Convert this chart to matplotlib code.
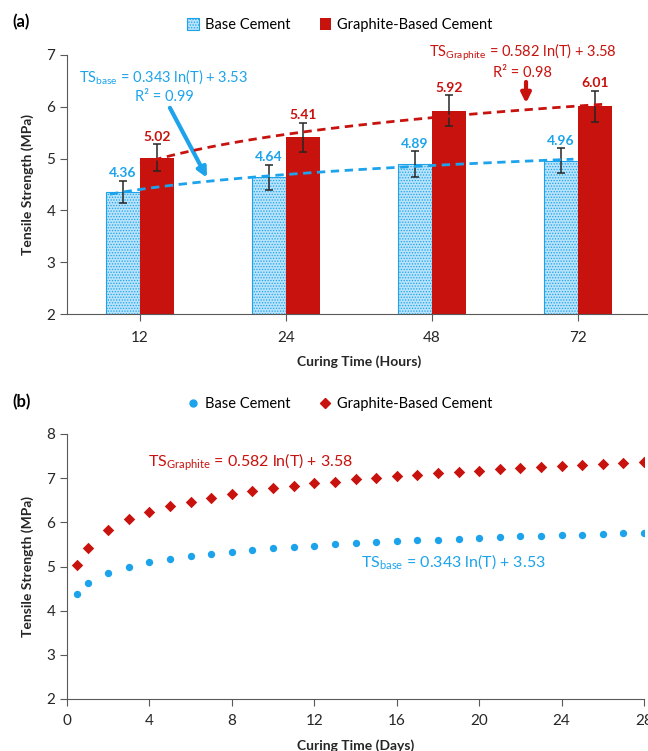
import numpy as np
import matplotlib
matplotlib.use('Agg')
import matplotlib.pyplot as plt
from matplotlib.patches import Patch
from matplotlib.lines import Line2D

plt.rcParams['font.family'] = ['Lato', 'DejaVu Sans']
plt.rcParams['mathtext.fontset'] = 'custom'
plt.rcParams['mathtext.rm'] = 'Lato'
plt.rcParams['mathtext.bf'] = 'Lato:bold'
plt.rcParams['hatch.linewidth'] = 0.6

# ===== data (a) =====
hours = [12, 24, 48, 72]
hour_labels = ['12', '24', '48', '72']
base_ts = [4.36, 4.64, 4.89, 4.96]
base_err = [0.21, 0.24, 0.25, 0.24]
graph_ts = [5.02, 5.41, 5.92, 6.01]
graph_err = [0.26, 0.28, 0.30, 0.30]

# ===== data (b) =====
days = [0.5, 1, 2, 3, 4, 5, 6, 7, 8, 9, 10, 11, 12, 13, 14, 15, 16, 17, 18, 19,
        20, 21, 22, 23, 24, 25, 26, 27, 28]
base_days_ts = [4.38, 4.62, 4.86, 5.00, 5.10, 5.17, 5.24, 5.29, 5.33, 5.37,
                5.41, 5.44, 5.47, 5.50, 5.53, 5.55, 5.57, 5.59, 5.61, 5.63,
                5.65, 5.66, 5.68, 5.70, 5.71, 5.72, 5.74, 5.75, 5.76]
graph_days_ts = [5.03, 5.43, 5.83, 6.07, 6.24, 6.37, 6.47, 6.56, 6.64, 6.71,
                 6.77, 6.83, 6.88, 6.92, 6.97, 7.01, 7.04, 7.08, 7.11, 7.14,
                 7.17, 7.20, 7.23, 7.25, 7.28, 7.30, 7.33, 7.35, 7.37]

blue = '#1ca3ec'
red = '#c8120e'
dark = '#262626'
spine_c = '#595959'

fig = plt.figure(figsize=(6.48, 7.51), dpi=100)

# ===== panel (a) =====
ax = fig.add_axes([67 / 648, 1 - 314 / 751, 584 / 648, 259 / 751])
x = np.arange(len(hours))
w = 0.233
pos_b = x - w / 2
pos_g = x + w / 2

ax.bar(pos_b, base_ts, w, facecolor='#b9e3fb', edgecolor=blue, hatch='......',
       linewidth=0.8, zorder=2)
ax.bar(pos_g, graph_ts, w, color=red, zorder=2)
ax.errorbar(pos_b, base_ts, yerr=base_err, fmt='none', ecolor=dark, elinewidth=1.1,
            capsize=3, capthick=1.1, zorder=4)
ax.errorbar(pos_g, graph_ts, yerr=graph_err, fmt='none', ecolor=dark, elinewidth=1.1,
            capsize=3, capthick=1.1, zorder=4)

for px, v, e in zip(pos_b, base_ts, base_err):
    ax.annotate(f'{v:.2f}', (px, v + e), xytext=(0, 1), textcoords='offset points',
                ha='center', va='bottom', color=blue, fontsize=10, fontweight='bold')
for px, v, e in zip(pos_g, graph_ts, graph_err):
    ax.annotate(f'{v:.2f}', (px, v + e), xytext=(0, 1), textcoords='offset points',
                ha='center', va='bottom', color=red, fontsize=10, fontweight='bold')


# Excel-style log trendline over the category index (1..4)
def trend(pos, vals, start, end):
    idx = np.arange(1, len(vals) + 1)
    a, b = np.polyfit(np.log(idx), vals, 1)
    xe = np.linspace(start, end, 60)
    return pos[0] + (xe - 1), a * np.log(xe) + b


tx, ty = trend(pos_b, base_ts, 0.91, 4.085)
ax.plot(tx, ty, ls=(0, (3, 2)), color=blue, lw=2, zorder=5)
tx, ty = trend(pos_g, graph_ts, 0.884, 4.08)
ax.plot(tx, ty, ls=(0, (3, 2)), color=red, lw=2, zorder=5)

ax.text(0.164, 6.575, r'TS$_\mathrm{base}$ = 0.343 ln(T) + 3.53', color=blue,
        fontsize=10.5, ha='center', va='center')
ax.text(0.164, 6.19, 'R² = 0.99', color=blue, fontsize=10.5, ha='center', va='center')
ax.annotate('', xy=(0.459, 4.63), xytext=(0.205, 5.98),
            arrowprops=dict(arrowstyle='-|>', color=blue, lw=3, mutation_scale=14,
                            shrinkA=0, shrinkB=0))
ax.text(2.62, 7.06, r'TS$_\mathrm{Graphite}$ = 0.582 ln(T) + 3.58', color=red,
        fontsize=10.5, ha='center', va='center')
ax.text(2.62, 6.65, 'R² = 0.98', color=red, fontsize=10.5, ha='center', va='center')
ax.annotate('', xy=(2.644, 6.07), xytext=(2.644, 6.48),
            arrowprops=dict(arrowstyle='-|>', color=red, lw=3, mutation_scale=14,
                            shrinkA=0, shrinkB=0))

ax.set_xlim(-0.5, 3.5)
ax.set_ylim(2, 7)
ax.set_yticks([2, 3, 4, 5, 6, 7])
ax.set_xticks(x)
ax.set_xticklabels(hour_labels)
ax.set_xlabel('Curing Time (Hours)', fontsize=10, fontweight='bold', color=dark, labelpad=8)
ax.set_ylabel('Tensile Strength (MPa)', fontsize=10, fontweight='bold', color=dark)
ax.yaxis.set_label_coords(-0.057, 0.5)
for s in ['top', 'right']:
    ax.spines[s].set_visible(False)
for s in ['left', 'bottom']:
    ax.spines[s].set_color(spine_c)
ax.tick_params(colors=spine_c, labelcolor=dark, labelsize=11, length=5, width=0.8)
ax.tick_params(axis='x', pad=7)

leg_a = [Patch(facecolor='#b9e3fb', edgecolor=blue, hatch='......', linewidth=0.8,
               label='Base Cement'),
         Patch(facecolor=red, label='Graphite-Based Cement')]
fig.legend(handles=leg_a, loc='center', bbox_to_anchor=(340 / 648, 1 - 25 / 751), ncol=2,
           frameon=False, fontsize=10.5, handlelength=0.8, handleheight=0.8,
           handletextpad=0.4, columnspacing=2.0)
fig.text(12 / 648, 1 - 22 / 751, '(a)', fontsize=12, fontweight='bold', va='center')

# ===== panel (b) =====
bx = fig.add_axes([67 / 648, 1 - 699 / 751, 577 / 648, 265 / 751])
bx.scatter(days, base_days_ts, s=28, color=blue, marker='o', linewidths=0, zorder=3)
bx.scatter(days, graph_days_ts, s=34, color=red, marker='D', linewidths=0, zorder=3)
bx.text(3.93, 7.36, r'TS$_\mathrm{Graphite}$ = 0.582 ln(T) + 3.58', color=red,
        fontsize=11.5, ha='left', va='center')
bx.text(14.27, 5.10, r'TS$_\mathrm{base}$ = 0.343 ln(T) + 3.53', color=blue,
        fontsize=11.5, ha='left', va='center')
bx.set_xlim(0, 28)
bx.set_ylim(2, 8)
bx.set_xticks(range(0, 29, 4))
bx.set_yticks(range(2, 9))
bx.set_xlabel('Curing Time (Days)', fontsize=10, fontweight='bold', color=dark, labelpad=8)
bx.set_ylabel('Tensile Strength (MPa)', fontsize=10, fontweight='bold', color=dark)
bx.yaxis.set_label_coords(-0.057, 0.5)
for s in ['top', 'right']:
    bx.spines[s].set_visible(False)
for s in ['left', 'bottom']:
    bx.spines[s].set_color(spine_c)
bx.tick_params(colors=spine_c, labelcolor=dark, labelsize=11, length=5, width=0.8)
bx.tick_params(axis='x', pad=6)

leg_b = [Line2D([], [], ls='none', marker='o', color=blue, markersize=5, label='Base Cement'),
         Line2D([], [], ls='none', marker='D', color=red, markersize=5,
                label='Graphite-Based Cement')]
fig.legend(handles=leg_b, loc='center', bbox_to_anchor=(340 / 648, 1 - 404 / 751), ncol=2,
           frameon=False, fontsize=10.5, handlelength=0.8, handletextpad=0.4,
           columnspacing=2.0)
fig.text(12 / 648, 1 - 402 / 751, '(b)', fontsize=12, fontweight='bold', va='center')

fig.savefig('out.png', dpi=100)
